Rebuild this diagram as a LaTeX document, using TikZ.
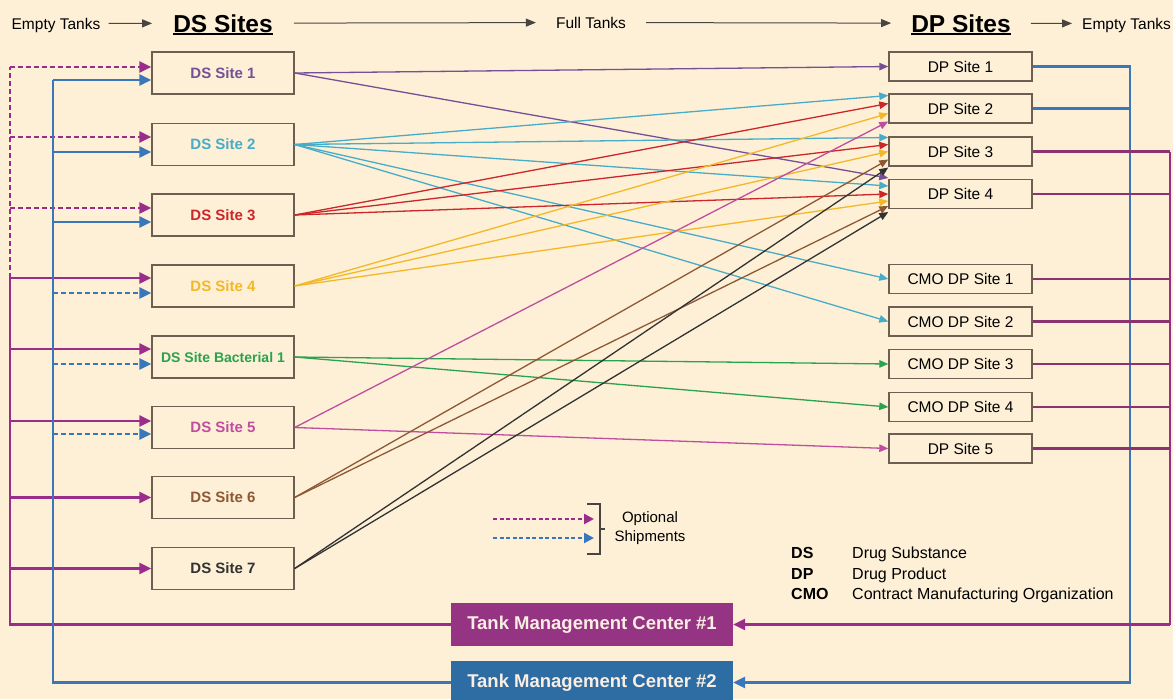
\documentclass[tikz,border=0pt]{standalone}
\usepackage{xcolor}
\usepackage{fontspec}
\setmainfont{Liberation Sans}
\usepackage{tikz}
\usetikzlibrary{arrows.meta}

\definecolor{paper}{RGB}{253,240,214}
\definecolor{boxline}{RGB}{108,94,80}
\definecolor{hdrgray}{RGB}{72,68,64}
\definecolor{tmcone}{RGB}{150,52,132}
\definecolor{tmctwo}{RGB}{46,108,164}
\definecolor{magline}{RGB}{155,45,138}
\definecolor{retline}{RGB}{140,50,110}
\definecolor{blueline}{RGB}{58,118,186}
\definecolor{tmctext}{RGB}{250,238,226}
\definecolor{siteone}{RGB}{118,80,150}
\definecolor{sitetwo}{RGB}{72,172,200}
\definecolor{sitethree}{RGB}{204,38,42}
\definecolor{sitefour}{RGB}{243,184,40}
\definecolor{sitebact}{RGB}{42,162,78}
\definecolor{sitefive}{RGB}{192,78,158}
\definecolor{sitesix}{RGB}{142,88,52}
\definecolor{siteseven}{RGB}{50,50,50}

\begin{document}
\begin{tikzpicture}[x=1pt, y=-1pt,
  dsbox/.style={draw=boxline, line width=1.4pt, minimum width=142pt, minimum height=42pt,
    inner sep=0pt, font=\fontsize{15}{17}\selectfont\bfseries},
  dpbox/.style={draw=boxline, line width=1.4pt, minimum width=143pt, minimum height=29pt,
    inner sep=0pt, font=\fontsize{15.5}{17}\selectfont},
  tmcbox/.style={fill=#1, text=tmctext, minimum width=282pt, minimum height=43pt,
    inner sep=0pt, font=\fontsize{18.5}{20}\selectfont\bfseries},
  hdr/.style={inner sep=0pt, anchor=base, text height=11pt, text depth=0pt,
    font=\fontsize{15.5}{17}\selectfont},
  bighdr/.style={inner sep=0pt, anchor=base, text height=17.5pt, text depth=0pt,
    font=\fontsize{24.5}{26}\selectfont\bfseries},
  hdrarrow/.style={draw=hdrgray, line width=1pt, -{Triangle[length=10pt,width=8pt]}},
  feed/.style={draw=#1, line width=1.3pt, -{Triangle[length=9pt,width=7.5pt]}},
  busline/.style={draw=#1, line width=2.8pt},
  busarrow/.style={draw=#1, line width=2.8pt, -{Triangle[length=12pt,width=11pt]}},
  legarrow/.style={draw=#1, line width=2.4pt, -{Triangle[length=10pt,width=10pt]}},
  optdash/.style={dash pattern=on 5pt off 3pt},
]

\fill[paper] (0,0) rectangle (1173,699);
\useasboundingbox (0,0) rectangle (1173,699);

%
% Header row
%
\node[hdr] (emptyin) at (56,29) {Empty Tanks};
\node[bighdr] (dssites) at (223,32) {DS Sites};
\node[hdr] (fulltanks) at (591,28) {Full Tanks};
\node[bighdr] (dpsites) at (961,32) {DP Sites};
\node[hdr, anchor=base west] (emptyout) at (1082,29) {Empty Tanks};

\draw[line width=1.8pt] ([yshift=-2pt]dssites.base west) -- ([yshift=-2pt]dssites.base east);
\draw[line width=1.8pt] ([yshift=-2pt]dpsites.base west) -- ([yshift=-2pt]dpsites.base east);

\draw[hdrarrow, shorten <=8pt, shorten >=21pt] (emptyin) -- (dssites);
\draw[hdrarrow, shorten <=21pt, shorten >=20pt] (dssites) -- (fulltanks);
\draw[hdrarrow, shorten <=20pt, shorten >=20pt] (fulltanks) -- (dpsites);
\draw[hdrarrow, shorten <=20pt, shorten >=10pt] (dpsites) -- (emptyout);

%
% DS sites
%
\node[dsbox, text=siteone]   (ds1) at (223,73)    {DS Site 1};
\node[dsbox, text=sitetwo]   (ds2) at (223,144.5) {DS Site 2};
\node[dsbox, text=sitethree] (ds3) at (223,215)   {DS Site 3};
\node[dsbox, text=sitefour]  (ds4) at (223,286)   {DS Site 4};
\node[dsbox, text=sitebact, font=\fontsize{14}{16}\selectfont\bfseries]
                             (dsb) at (223,357)   {DS Site Bacterial 1};
\node[dsbox, text=sitefive]  (ds5) at (223,427.5) {DS Site 5};
\node[dsbox, text=sitesix]   (ds6) at (223,497.5) {DS Site 6};
\node[dsbox, text=siteseven] (ds7) at (223,568.5) {DS Site 7};

%
% DP sites
%
\node[dpbox] (dp1)  at (960.5,66.5)  {DP Site 1};
\node[dpbox] (dp2)  at (960.5,108.5) {DP Site 2};
\node[dpbox] (dp3)  at (960.5,151.5) {DP Site 3};
\node[dpbox] (dp4)  at (960.5,194)   {DP Site 4};
\node[dpbox] (cmo1) at (960.5,279)   {CMO DP Site 1};
\node[dpbox] (cmo2) at (960.5,321.5) {CMO DP Site 2};
\node[dpbox] (cmo3) at (960.5,364)   {CMO DP Site 3};
\node[dpbox] (cmo4) at (960.5,407)   {CMO DP Site 4};
\node[dpbox] (dp5)  at (960.5,448.5) {DP Site 5};

%
% Tank management centers
%
\node[tmcbox=tmcone] (tmc1) at (592,624.5) {Tank Management Center \#1};
\node[tmcbox=tmctwo] (tmc2) at (592,682.5) {Tank Management Center \#2};

%
% Full tanks, DS -> DP
%
\draw[feed=siteone] (ds1.east) -- (dp1.west);
\draw[feed=siteone] (ds1.east) -- ([yshift=16pt]dp4.west);

\draw[feed=sitetwo] (ds2.east) -- ([yshift=13pt]dp2.west);
\draw[feed=sitetwo] (ds2.east) -- ([yshift=14pt]dp3.west);
\draw[feed=sitetwo] (ds2.east) -- ([yshift=8pt]dp4.west);
\draw[feed=sitetwo] (ds2.east) -- (cmo1.west);
\draw[feed=sitetwo] (ds2.east) -- (cmo2.west);

\draw[feed=sitethree] (ds3.east) -- ([yshift=5pt]dp2.west);
\draw[feed=sitethree] (ds3.east) -- ([yshift=7pt]dp3.west);
\draw[feed=sitethree] (ds3.east) -- (dp4.west);

\draw[feed=sitefour] (ds4.east) -- ([yshift=-5pt]dp2.west);
\draw[feed=sitefour] (ds4.east) -- (dp3.west);
\draw[feed=sitefour] (ds4.east) -- ([yshift=-7pt]dp4.west);

\draw[feed=sitebact] (dsb.east) -- (cmo3.west);
\draw[feed=sitebact] (dsb.east) -- (cmo4.west);

\draw[feed=sitefive] (ds5.east) -- ([yshift=-13pt]dp2.west);
\draw[feed=sitefive] (ds5.east) -- (dp5.west);

\draw[feed=sitesix] (ds6.east) -- ([yshift=-8pt]dp3.west);
\draw[feed=sitesix] (ds6.east) -- ([yshift=-12pt]dp4.west);

\draw[feed=siteseven] (ds7.east) -- ([yshift=-16pt]dp3.west);
\draw[feed=siteseven] (ds7.east) -- ([yshift=-18pt]dp4.west);

%
% Empty tanks back to the centers
%
\coordinate (rblue) at (1130,0);
\coordinate (rmag) at (1170,0);

\draw[busarrow=blueline] (dp1.east) -| (tmc2.east -| rblue) -- (tmc2.east);
\draw[busline=blueline] (dp2.east) -- (dp2.east -| rblue);

\draw[busline=magline] (rmag |- dp3.east) -- (tmc1.east -| rmag);
\draw[busarrow=magline] (tmc1.east -| rmag) -- (tmc1.east);
\draw[busline=retline] (dp3.east) -- (dp3.east -| rmag);
\draw[busline=retline] (dp4.east) -- (dp4.east -| rmag);
\draw[busline=retline] (cmo1.east) -- (cmo1.east -| rmag);
\draw[busline=retline] (cmo2.east) -- (cmo2.east -| rmag);
\draw[busline=retline] (cmo3.east) -- (cmo3.east -| rmag);
\draw[busline=retline] (cmo4.east) -- (cmo4.east -| rmag);
\draw[busline=retline] (dp5.east) -- (dp5.east -| rmag);

%
% Empty tanks out to the DS sites, center #1
%
\coordinate (m1) at (10,67);
\coordinate (m2) at (10,137);
\coordinate (m3) at (10,208);
\coordinate (m4) at (10,278);
\coordinate (mb) at (10,349);
\coordinate (m5) at (10,421);
\coordinate (m6) at (10,497.5);
\coordinate (m7) at (10,568.5);

\draw[busline=magline] (tmc1.west) -| (m4);
\draw[busline=magline, optdash] (m4) -- (m1);

\draw[busarrow=magline, optdash] (m1) -- (m1 -| ds1.west);
\draw[busarrow=magline, optdash] (m2) -- (m2 -| ds2.west);
\draw[busarrow=magline, optdash] (m3) -- (m3 -| ds3.west);
\draw[busarrow=magline] (m4) -- (m4 -| ds4.west);
\draw[busarrow=magline] (mb) -- (mb -| dsb.west);
\draw[busarrow=magline] (m5) -- (m5 -| ds5.west);
\draw[busarrow=magline] (m6) -- (ds6.west);
\draw[busarrow=magline] (m7) -- (ds7.west);

%
% Empty tanks out to the DS sites, center #2
%
\coordinate (b1) at (53,80);
\coordinate (b2) at (53,152);
\coordinate (b3) at (53,222);
\coordinate (b4) at (53,293);
\coordinate (bb) at (53,364);
\coordinate (b5) at (53,434);

\draw[busline=blueline] (tmc2.west) -| (b1);

\draw[busarrow=blueline] (b1) -- (b1 -| ds1.west);
\draw[busarrow=blueline] (b2) -- (b2 -| ds2.west);
\draw[busarrow=blueline] (b3) -- (b3 -| ds3.west);
\draw[busarrow=blueline, optdash] (b4) -- (b4 -| ds4.west);
\draw[busarrow=blueline, optdash] (bb) -- (bb -| dsb.west);
\draw[busarrow=blueline, optdash] (b5) -- (b5 -| ds5.west);

%
% Legend
%
\coordinate (legm) at (493,519);
\coordinate (legb) at (493,538);
\draw[legarrow=magline, dash pattern=on 4pt off 2.5pt] (legm) -- ++(101,0);
\draw[legarrow=blueline, dash pattern=on 4pt off 2.5pt] (legb) -- ++(101,0);

\draw[hdrgray, line width=1.1pt] (587,504) -- (600,504) -- (600,554) -- (587,554);
\draw[hdrgray, line width=1.1pt] (600,529) -- (605,529);

\node[align=center, font=\fontsize{15}{19}\selectfont] (optlabel) at (650,528.5)
  {Optional\\Shipments};

\node[anchor=west, inner sep=0pt, font=\fontsize{16}{20.5}\selectfont] (abbrev) at (791,575)
  {\begin{tabular}{@{}p{61pt}@{}l@{}}
    \textbf{DS}  & Drug Substance\\
    \textbf{DP}  & Drug Product\\
    \textbf{CMO} & Contract Manufacturing Organization
  \end{tabular}};

\end{tikzpicture}
\end{document}
